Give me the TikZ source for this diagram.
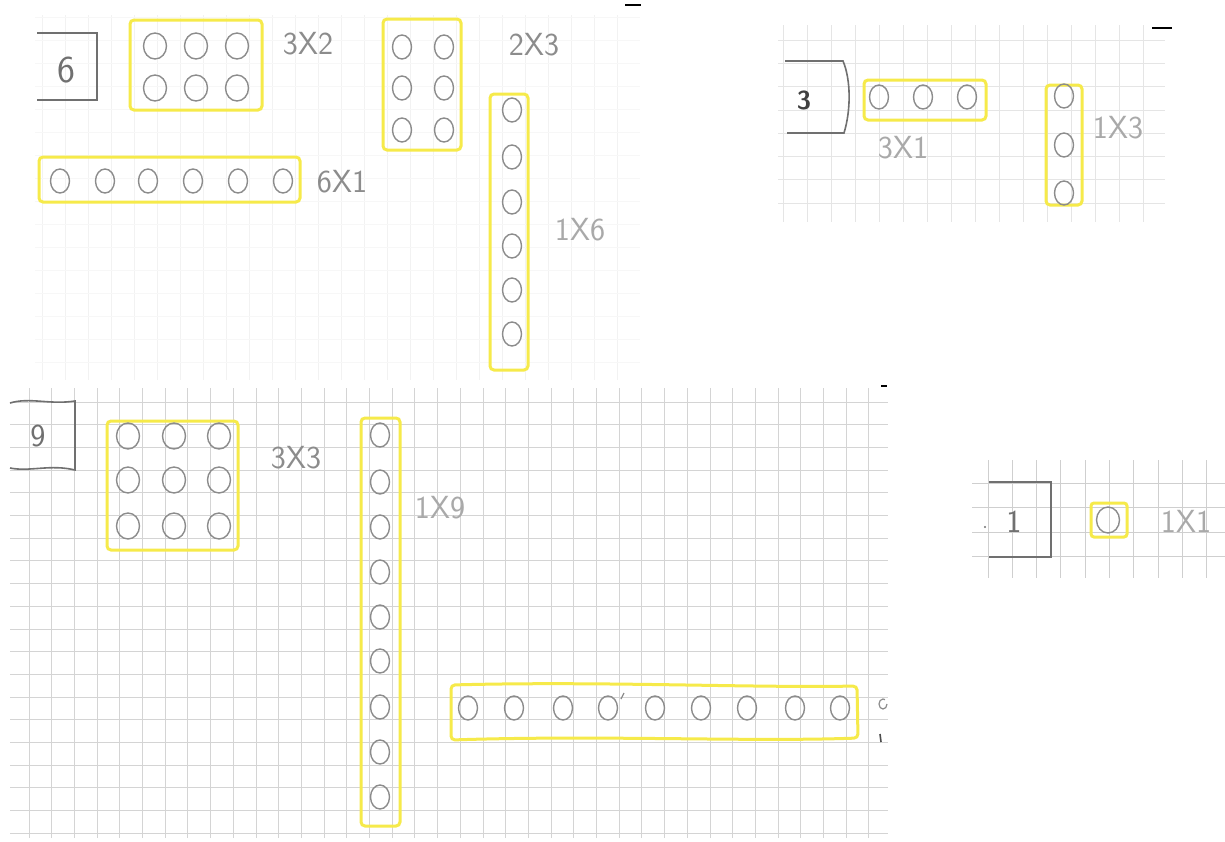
\documentclass[tikz,border=0pt]{standalone}
\usepackage{fontspec}
\usetikzlibrary{shapes.geometric}
\definecolor{hlyellow}{HTML}{F6EA4A}
\definecolor{pencil}{HTML}{8C8C8C}
\definecolor{boxline}{HTML}{707070}
\tikzset{
  hole/.style={draw=pencil, line width=1.4pt, ellipse, minimum width=19pt, minimum height=24pt, inner sep=0pt},
  bighole/.style={hole, minimum width=23pt, minimum height=26pt},
  hl/.style={draw=hlyellow, line width=3pt, rounded corners=4pt},
  pbox/.style={draw=boxline, line width=1.6pt},
  lbl/.style={text=pencil, font=\sffamily\fontsize{32}{34}\selectfont, inner sep=0pt},
  lbllight/.style={lbl, text=pencil!75},
  g1/.style={draw=black!5, line width=0.8pt},
  g1h/.style={draw=black!3, line width=0.8pt},
  g2/.style={draw=black!10, line width=0.8pt},
  g3/.style={draw=black!17, line width=0.9pt},
  g4/.style={draw=black!19, line width=0.9pt},
  tick/.style={draw=black, line width=1.6pt}
}
\begin{document}
\begin{tikzpicture}[x=1pt,y=-1pt]
\useasboundingbox (0,0) rectangle (1225,841);
\fill[white] (0,0) rectangle (1225,841);
% ---------- grids ----------
% panel 1 (very faint)
\foreach \k in {0,...,25} \draw[g1] ({42+23*\k},15) -- ({42+23*\k},380);
\foreach \k in {0,...,15} \draw[g1h] (35,{17+23*\k}) -- (640,{17+23*\k});
% panel 2
\foreach \k in {0,...,15} \draw[g2] ({783+24*\k},25) -- ({783+24*\k},222);
\foreach \k in {0,...,7} \draw[g2] (778,{40+23.3*\k}) -- (1165,{40+23.3*\k});
% panel 3
\foreach \k in {0,...,37} \draw[g3] ({29+22.7*\k},388) -- ({29+22.7*\k},838);
\foreach \k in {0,...,19} \draw[g3] (10,{402+22.7*\k}) -- (888,{402+22.7*\k});
% panel 4
\foreach \k in {0,...,9} \draw[g4] ({988+24.3*\k},460) -- ({988+24.3*\k},578);
\foreach \k in {0,...,3} \draw[g4] (972,{483+24.5*\k}) -- (1225,{483+24.5*\k});

% small black marks at panel corners
\draw[tick] (625,5) -- (641,5);
\draw[tick] (1152,28) -- (1172,28);
\draw[tick] (881,386) -- (887,386);

% ================= panel 1 : six =================
\draw[pbox] (37,33) -- (97,33) -- (97,100) -- (37,100);
\node[lbl, text=boxline, font=\sffamily\fontsize{38}{40}\selectfont] (n6) at (66,70) {6};

% 3x2
\draw[hl] (130,20) rectangle (262,110);
\foreach \x [count=\i] in {155,196,237} {
  \node[bighole] (a1-\i) at (\x,46) {};
  \node[bighole] (a2-\i) at (\x,88) {};
}
\node[lbl] (l32) at (308,44) {3X2};

% 2x3
\draw[hl] (383,19) rectangle (461,150);
\foreach \y [count=\i] in {47,88,130} {
  \node[hole] (b1-\i) at (402,\y) {};
  \node[hole] (b2-\i) at (444,\y) {};
}
\node[lbl] (l23) at (534,45) {2X3};

% 6x1
\draw[hl] (39,157) rectangle (300,202);
\foreach \x [count=\i] in {60,105,148,193,238,283} {
  \node[hole] (c-\i) at (\x,181) {};
}
\node[lbl] (l61) at (342,182) {6X1};

% 1x6
\draw[hl] (490,94) rectangle (528,370);
\foreach \y [count=\i] in {110,157,202,246,290,334} {
  \node[hole] (d-\i) at (512,\y) {};
}
\node[lbllight] (l16) at (580,230) {1X6};

% ================= panel 2 : three =================
\draw[pbox] (785,61) -- (843,61) .. controls (851,80) and (851,110) .. (844,133) -- (787,133);
\node[lbl, text=black!75, font=\sffamily\bfseries\fontsize{26}{28}\selectfont] (n3) at (804,100) {3};

% 3x1
\draw[hl] (864,80) rectangle (986,120);
\foreach \x [count=\i] in {879,923,967} {
  \node[hole] (e-\i) at (\x,97) {};
}
\node[lbllight] (l31) at (903,148) {3X1};

% 1x3
\draw[hl] (1046,85) rectangle (1082,205);
\foreach \y [count=\i] in {96,145,193} {
  \node[hole] (f-\i) at (1064,\y) {};
}
\node[lbllight] (l13) at (1118,128) {1X3};

% ================= panel 3 : nine =================
\draw[pbox] (10,403) .. controls (30,397) and (50,405) .. (75,401) -- (75,470)
  .. controls (50,464) and (30,472) .. (10,468);
\node[lbl, text=boxline] (n9) at (38,436) {9};

% 3x3
\draw[hl] (107,421) rectangle (238,550);
\foreach \x [count=\i] in {128,174,219} {
  \node[bighole] (g1-\i) at (\x,436) {};
  \node[bighole] (g2-\i) at (\x,480) {};
  \node[bighole] (g3-\i) at (\x,526) {};
}
\node[lbl] (l33) at (296,458) {3X3};

% 1x9
\draw[hl] (361,418) rectangle (400,826);
\foreach \y [count=\i] in {435,482,527,572,617,661,707,752,797} {
  \node[hole] (h-\i) at (380,\y) {};
}
\node[lbllight] (l19) at (440,508) {1X9};

% 9x1
\draw[hl] (451,685) .. controls (600,681) and (750,688) .. (857,686) -- (858,738)
  .. controls (750,742) and (600,735) .. (451,740) -- cycle;
\foreach \x [count=\i] in {468,514,563,608,655,701,747,795,840} {
  \node[hole] (k-\i) at (\x,708) {};
}
\draw[draw=pencil, line width=1.2pt] (621,699) -- (624,693);
% cut-off label at the right edge
\draw[draw=pencil, line width=1.2pt] (887,704) arc[start angle=0, end angle=300, x radius=4, y radius=5];
\draw[draw=black!70, line width=1.6pt] (880,734) -- (881,742);

% ================= panel 4 : one =================
\draw[pbox] (989,482) -- (1051,482) -- (1051,557) -- (989,557);
\fill[boxline] (985,527) circle (1.2);
\node[lbl, text=boxline] (n1) at (1014,522) {1};
\draw[hl, rounded corners=3pt] (1091,503) rectangle (1127,537);
\node[bighole] (m-1) at (1108,520) {};
\node[lbllight] (l11) at (1186,521) {1X1};
\end{tikzpicture}
\end{document}
